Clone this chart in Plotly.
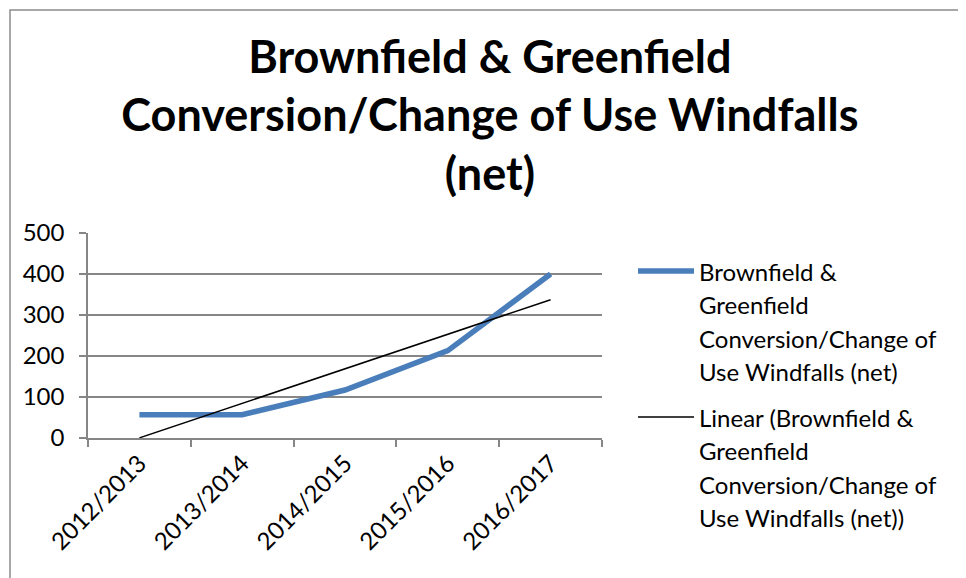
import numpy as np
import plotly.graph_objects as go

# data
years = ["2012/2013", "2013/2014", "2014/2015", "2015/2016", "2016/2017"]
windfalls = [57, 57, 117, 213, 400]

series_lines = ["Brownfield &", "Greenfield", "Conversion/Change of", "Use Windfalls (net)"]
trend_lines = ["Linear (Brownfield &", "Greenfield", "Conversion/Change of", "Use Windfalls (net))"]

# excel style linear trendline, least squares on the category index
idx = np.arange(1, len(years) + 1)
slope, intercept = np.polyfit(idx, windfalls, 1)
trend = slope * idx + intercept

font_family = "Lato, Calibri, Carlito, sans-serif"
grid_col = "#868686"
blue = "#4A7EBB"

# the page body has an 8px margin, so the figure is drawn 8px smaller
OFF = 8
W, H = 966 - OFF, 578 - OFF
# plot area in page pixels
L, R, T, B = 88, 602, 233, 438


def px_x(px):
    return (px - L) / (R - L)


def px_y(py):
    return (B - py) / (B - T)


fig = go.Figure()
fig.add_trace(go.Scatter(x=years, y=windfalls, mode="lines", name="Windfalls (net)",
                         line=dict(color=blue, width=5.5)))
fig.add_trace(go.Scatter(x=years, y=trend, mode="lines", name="Linear trend",
                         line=dict(color="black", width=1.5)))

fig.update_layout(
    width=W, height=H,
    margin=dict(l=L - OFF, r=966 - R, t=T - OFF, b=578 - B, autoexpand=False),
    paper_bgcolor="white", plot_bgcolor="white",
    font=dict(family=font_family, size=24, color="black"),
    title=dict(text="<b>Brownfield & Greenfield<br>Conversion/Change of Use Windfalls<br>(net)</b>",
               x=0.503, xanchor="center", y=0.886, yanchor="middle",
               font=dict(family=font_family, size=45, color="black")),
    showlegend=False,
)

fig.update_xaxes(
    type="category", range=[-0.5, 4.5], tickangle=-45, automargin=False,
    showline=True, linecolor=grid_col, linewidth=1.5,
    ticks="outside", tickson="boundaries", ticklen=7, tickcolor=grid_col, tickwidth=1.5,
    showgrid=False, tickfont=dict(family=font_family, size=24),
)
fig.update_yaxes(
    range=[0, 500], dtick=100, automargin=False,
    showline=True, linecolor=grid_col, linewidth=1.5,
    ticks="outside", ticklen=7, tickcolor=grid_col, tickwidth=1.5,
    showgrid=True, gridcolor=grid_col, gridwidth=1.5, zeroline=False,
    ticklabelstandoff=10, tickfont=dict(family=font_family, size=24),
)

# legend drawn by hand so the line spacing matches excel
legend_items = [(series_lines, blue, 5.5, 271), (trend_lines, "black", 1.5, 417)]
for lines, col, w, top in legend_items:
    fig.add_shape(type="line", xref="paper", yref="paper",
                  x0=px_x(638), x1=px_x(694), y0=px_y(top), y1=px_y(top),
                  line=dict(color=col, width=w))
    for i, txt in enumerate(lines):
        fig.add_annotation(text=txt, xref="paper", yref="paper",
                           x=px_x(697), y=px_y(top + i * 33.5), xanchor="left", yanchor="middle",
                           showarrow=False, font=dict(family=font_family, size=24))

# chart area border like the excel export (left/top edge just inside the figure)
fig.add_shape(type="rect", xref="paper", yref="paper",
              x0=px_x(10), x1=px_x(963), y0=px_y(600), y1=px_y(10),
              line=dict(color="#8c8c8c", width=1.5), layer="below")

fig.write_html("out.html")
